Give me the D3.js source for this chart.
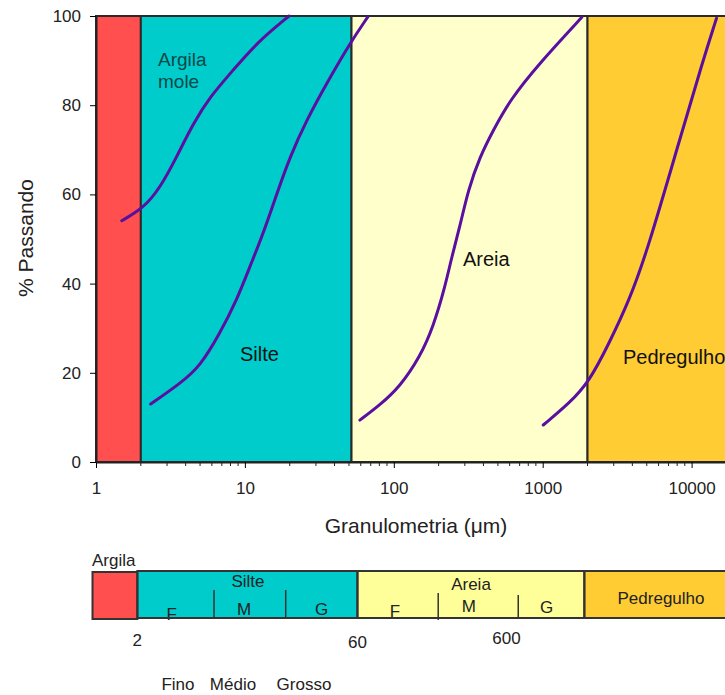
<!DOCTYPE html>
<html>
<head>
<meta charset="utf-8">
<script src="https://cdn.jsdelivr.net/npm/d3@7"></script>
<style>
  body { margin: 0; background: #fff; }
  text { font-family: "Liberation Sans", Arial, sans-serif; }
</style>
</head>
<body>
<script>
// faixas granulometricas (um)
var bandNames = ["Argila", "Silte", "Areia", "Pedregulho"];
var bandEdges = [1, 2, 52, 2000, 100000];
var bandColors = ["#ff4f4f", "#00cccc", "#ffffcc", "#ffcc33"];

// curvas granulometricas: diametro (um) e % passando
var curveArgilaX = [1.49, 2.08, 2.69, 3.48, 4.5, 5.83, 8.36, 12, 19.8];
var curveArgilaY = [54.1, 56.9, 61.4, 68.4, 75.9, 81.9, 87.9, 94, 100];
var curveSilteX = [2.33, 3.67, 4.99, 6.8, 8.81, 10.8, 13.3, 16.4, 20.1, 26, 35.4, 50.8, 66.9];
var curveSilteY = [13, 17.6, 21.4, 28.9, 36.3, 43.8, 51.3, 60.2, 68.5, 76.7, 84.9, 93.9, 99.8];
var curveAreiaX = [59.2, 80.8, 110, 150, 184, 221, 245, 278, 316, 379, 466, 603, 955, 1830];
var curveAreiaY = [9.4, 12.8, 16.9, 23.6, 30.3, 39.3, 46, 52.8, 61, 68.5, 74.4, 81.2, 89.5, 99.7];
var curvePedX = [1009, 1513, 2052, 2800, 3820, 5060, 8300, 11800, 14700];
var curvePedY = [8.3, 13.2, 18, 26.7, 36.3, 47.5, 72.2, 89.5, 99.5];

var yTicks = [0, 20, 40, 60, 80, 100];
var xTicks = [1, 10, 100, 1000, 10000];

// escala de classificacao (embaixo)
var stripNames = ["Argila", "Silte", "Areia", "Pedregulho"];
var stripEdges = [1, 2, 60, 2000, 100000];
var stripColors = ["#ff4f4f", "#00cccc", "#ffff99", "#ffcc33"];
var stripDividers = [6.54, 19.8, 209, 720];
var subNames = ["F", "M", "G", "F", "M", "G"];
var subPos = [3.4, 10.4, 34.5, 107, 336, 1117];
var stripTicks = [2, 60, 600];
var sizeNames = ["Fino", "Médio", "Grosso"];

var width = 725, height = 695;
var svg = d3.select("body").append("svg")
    .attr("width", width)
    .attr("height", height);

var x = d3.scaleLog().domain([1, 100000]).range([96, 96 + 148.9 * 5]);
var y = d3.scaleLinear().domain([0, 100]).range([462, 16]);

// faixas
var bands = bandNames.map(function(n, i) {
  return { name: n, x0: bandEdges[i], x1: bandEdges[i + 1], color: bandColors[i] };
});
svg.selectAll(".band")
  .data(bands)
  .enter().append("rect")
    .attr("class", "band")
    .attr("x", function(d) { return x(d.x0); })
    .attr("y", y(100))
    .attr("width", function(d) { return x(d.x1) - x(d.x0); })
    .attr("height", y(0) - y(100))
    .attr("fill", function(d) { return d.color; })
    .attr("stroke", "#2a2a2a")
    .attr("stroke-width", 2);

// curvas
var line = d3.line()
    .x(function(d) { return x(d[0]); })
    .y(function(d) { return y(d[1]); })
    .curve(d3.curveBasis);

[[curveArgilaX, curveArgilaY], [curveSilteX, curveSilteY],
 [curveAreiaX, curveAreiaY], [curvePedX, curvePedY]].forEach(function(c) {
  svg.append("path")
    .datum(d3.zip(c[0], c[1]))
    .attr("d", line)
    .attr("fill", "none")
    .attr("stroke", "#5a0fa0")
    .attr("stroke-width", 3)
    .attr("stroke-linecap", "round");
});

// eixos
var xAxis = svg.append("g")
    .attr("transform", "translate(0," + y(0) + ")")
    .call(d3.axisBottom(x).tickValues(xTicks).tickFormat(d3.format("d")).tickSize(6).tickSizeOuter(0));
xAxis.select(".domain").attr("stroke", "#222").attr("stroke-width", 2);
xAxis.selectAll("text").attr("font-size", 17).attr("fill", "#222").attr("y", 20);

var minor = x.ticks().filter(function(v) { return xTicks.indexOf(v) < 0 && v < 30000; });
svg.append("g").selectAll("line")
  .data(minor)
  .enter().append("line")
    .attr("x1", function(d) { return x(d); })
    .attr("x2", function(d) { return x(d); })
    .attr("y1", y(0))
    .attr("y2", y(0) + 4)
    .attr("stroke", "#222");

var yAxis = svg.append("g")
    .attr("transform", "translate(" + x(1) + ",0)")
    .call(d3.axisLeft(y).tickValues(yTicks).tickSize(6).tickSizeOuter(0));
yAxis.select(".domain").attr("stroke", "#222").attr("stroke-width", 2);
yAxis.selectAll("text").attr("font-size", 17).attr("fill", "#222").attr("x", -15);

svg.append("text")
    .attr("x", 416).attr("y", 533)
    .attr("text-anchor", "middle")
    .attr("font-size", 21).attr("fill", "#222")
    .text("Granulometria (μm)");

svg.append("text")
    .attr("transform", "translate(33,238) rotate(-90)")
    .attr("text-anchor", "middle")
    .attr("font-size", 21).attr("fill", "#222")
    .text("% Passando");

// rotulos no grafico
svg.append("text").attr("x", 158).attr("y", 66).attr("font-size", 19).attr("fill", "#0b4848").text("Argila");
svg.append("text").attr("x", 158).attr("y", 88).attr("font-size", 19).attr("fill", "#0b4848").text("mole");
svg.append("text").attr("x", 240).attr("y", 361).attr("font-size", 20).attr("fill", "#111").text("Silte");
svg.append("text").attr("x", 463).attr("y", 266).attr("font-size", 20).attr("fill", "#111").text("Areia");
svg.append("text").attr("x", 623).attr("y", 364).attr("font-size", 20).attr("fill", "#111").text("Pedregulho");

// escala de classificacao
var xs = d3.scaleLog().domain([1, 100000]).range([92.5, 92.5 + 149 * 5]);
var stripTop = 571, stripBottom = 618;
var strip = stripNames.map(function(n, i) {
  return { name: n, x0: stripEdges[i], x1: stripEdges[i + 1], color: stripColors[i] };
});
svg.selectAll(".strip")
  .data(strip)
  .enter().append("rect")
    .attr("class", "strip")
    .attr("x", function(d) { return xs(d.x0); })
    .attr("y", function(d, i) { return i === 0 ? stripTop + 1 : stripTop; })
    .attr("width", function(d) { return xs(d.x1) - xs(d.x0); })
    .attr("height", stripBottom - stripTop)
    .attr("fill", function(d) { return d.color; });

svg.append("text").attr("x", 92).attr("y", 566).attr("font-size", 17).attr("fill", "#222").text("Argila");
svg.append("text").attr("x", 248).attr("y", 587).attr("text-anchor", "middle").attr("font-size", 17).attr("fill", "#222").text("Silte");
svg.append("text").attr("x", 471).attr("y", 590).attr("text-anchor", "middle").attr("font-size", 17).attr("fill", "#222").text("Areia");
svg.append("text").attr("x", 661).attr("y", 604).attr("text-anchor", "middle").attr("font-size", 17).attr("fill", "#222").text("Pedregulho");

svg.selectAll(".sub")
  .data(subNames)
  .enter().append("text")
    .attr("class", "sub")
    .attr("x", function(d, i) { return xs(subPos[i]); })
    .attr("y", function(d, i) { return [620, 615, 615, 617, 612, 613][i]; })
    .attr("text-anchor", "middle")
    .attr("font-size", 17)
    .attr("fill", "#222")
    .text(function(d) { return d; });

// bordas por cima do texto
svg.selectAll(".stripBorder")
  .data(strip)
  .enter().append("rect")
    .attr("class", "stripBorder")
    .attr("x", function(d) { return xs(d.x0); })
    .attr("y", function(d, i) { return i === 0 ? stripTop + 1 : stripTop; })
    .attr("width", function(d) { return xs(d.x1) - xs(d.x0); })
    .attr("height", stripBottom - stripTop)
    .attr("fill", "none")
    .attr("stroke", "#333")
    .attr("stroke-width", 2);

svg.selectAll(".divider")
  .data(stripDividers)
  .enter().append("line")
    .attr("class", "divider")
    .attr("x1", function(d) { return xs(d); })
    .attr("x2", function(d) { return xs(d); })
    .attr("y1", function(d, i) { return [590, 590, 593, 595][i]; })
    .attr("y2", function(d, i) { return i === 2 ? 620 : stripBottom; })
    .attr("stroke", "#333")
    .attr("stroke-width", 1.5);

svg.selectAll(".stick")
  .data(stripTicks)
  .enter().append("text")
    .attr("class", "stick")
    .attr("x", function(d) { return xs(d); })
    .attr("y", function(d, i) { return [646, 648, 644][i]; })
    .attr("text-anchor", "middle")
    .attr("font-size", 17)
    .attr("fill", "#222")
    .text(function(d) { return d; });

svg.selectAll(".size")
  .data(sizeNames)
  .enter().append("text")
    .attr("class", "size")
    .attr("x", function(d, i) { return [178, 233, 304][i]; })
    .attr("y", 690)
    .attr("text-anchor", "middle")
    .attr("font-size", 17)
    .attr("fill", "#222")
    .text(function(d) { return d; });
</script>
</body>
</html>
